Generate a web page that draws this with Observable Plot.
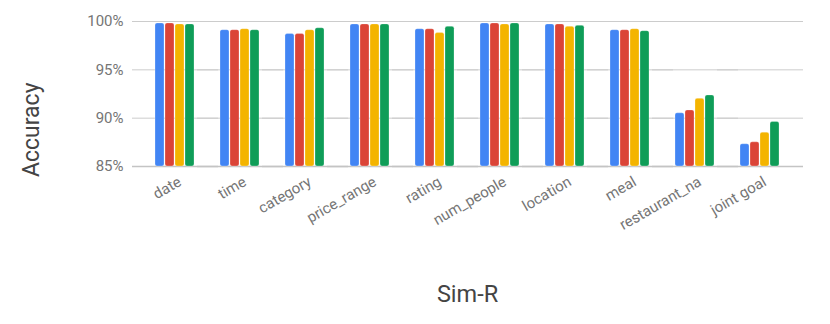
<!DOCTYPE html>
<html>
<head>
<meta charset="utf-8">
<script src="https://cdn.jsdelivr.net/npm/d3@7"></script>
<script src="https://cdn.jsdelivr.net/npm/@observablehq/plot@0.6"></script>
<style>
  html, body { margin: 0; padding: 0; background: #fff; }
  #chart svg { font-family: Roboto, "Noto Sans", sans-serif; }
</style>
</head>
<body>
<div id="chart"></div>
<script>
const categories = ["date","time","category","price_range","rating","num_people","location","meal","restaurant_na","joint goal"];
const series = ["S1","S2","S3","S4"];
const colors = ["#4285F4","#DB4437","#F4B400","#0F9D58"];
const s1 = [99.8, 99.1, 98.7, 99.7, 99.2, 99.8, 99.7, 99.1, 90.5, 87.3];
const s2 = [99.8, 99.1, 98.7, 99.7, 99.2, 99.8, 99.7, 99.1, 90.8, 87.5];
const s3 = [99.7, 99.2, 99.1, 99.7, 98.8, 99.7, 99.45, 99.2, 92.0, 88.5];
const s4 = [99.7, 99.1, 99.3, 99.7, 99.45, 99.8, 99.55, 99.0, 92.35, 89.6];
const yTicks = [85, 90, 95, 100];
const baseline = 85;
const yTitle = "Accuracy";
const xTitle = "Sim-R";

const values = [s1, s2, s3, s4];
const data = [];
categories.forEach((c, i) => series.forEach((s, j) => data.push({category: c, series: s, value: values[j][i]})));

const chart = Plot.plot({
  width: 830,
  height: 324,
  marginLeft: 140,
  marginRight: 37,
  marginTop: 21,
  marginBottom: 158,
  style: {fontFamily: "Roboto, sans-serif", background: "#fff"},
  fx: {domain: categories, padding: 0},
  x: {domain: series, paddingInner: 0.1, paddingOuter: 1.22},
  y: {domain: [85, 100]},
  color: {domain: series, range: colors},
  marks: [
    Plot.ruleY(yTicks.slice(1), {stroke: "#cccccc", strokeWidth: 1, insetLeft: -10, insetRight: -11}),
    Plot.ruleY([baseline], {stroke: "#c4c4c4", strokeWidth: 1.5, insetLeft: -10, insetRight: -11}),
    Plot.barY(data, {fx: "category", x: "series", y1: baseline, y2: "value", fill: "series", rx: 2, stroke: "#ffffff", strokeOpacity: 0.5, strokeWidth: 0.5}),
    Plot.axisY(yTicks, {tickFormat: d => d + "%", tickSize: 0, tickPadding: 19, fontSize: 15, color: "#757575", label: null}),
    Plot.text([yTitle], {facet: "super", frameAnchor: "left", rotate: -90, dx: -111, dy: 83, fontSize: 23, fill: "#444444"}),
    Plot.axisFx({anchor: "bottom", tickRotate: -30, tickSize: 0, tickPadding: 14, dx: 5, fontSize: 15, color: "#757575", label: null}),
    Plot.axisFx({anchor: "bottom", ticks: [], tickSize: 0, label: xTitle, labelArrow: "none", labelAnchor: "center", labelOffset: 135, fontSize: 23.5, color: "#444444"}),
    Plot.axisX({ticks: [], tickSize: 0, label: null})
  ]
});
document.getElementById("chart").appendChild(chart);
</script>
</body>
</html>
